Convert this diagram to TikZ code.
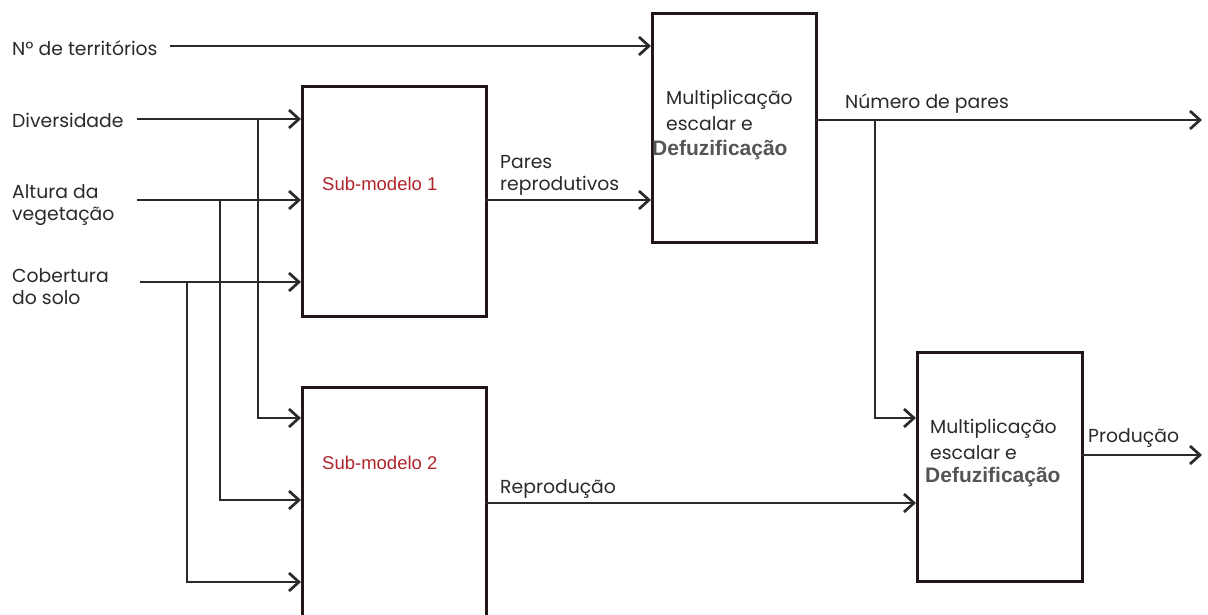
\documentclass[tikz,border=0pt]{standalone}
\usepackage{fontspec}
\setmainfont{Poppins}
\newfontfamily\arialf{Liberation Sans}
\usetikzlibrary{arrows.meta,calc}
\definecolor{txt}{HTML}{2A2A2A}
\definecolor{smred}{HTML}{B0242C}
\definecolor{boxline}{HTML}{221616}
\definecolor{defgray}{HTML}{555555}
\tikzset{
  px/.style={x=1pt,y=-1pt},
  box/.style={draw=boxline,line width=2.8pt,inner sep=0pt,anchor=north west},
  arr/.style={line width=2.7pt,draw=txt,-{Straight Barb[length=10pt,width=18pt,line width=2.7pt]}},
  lbl/.style={font=\fontsize{18.8}{22}\selectfont,text=txt,inner sep=0pt,align=left},
  sm/.style={font=\arialf\fontsize{18.5}{20}\selectfont,text=smred,inner sep=0pt},
  defz/.style={font=\arialf\bfseries\fontsize{21}{24}\selectfont,text=defgray,inner sep=0pt}
}
\begin{document}
\begin{tikzpicture}[px]
\useasboundingbox (0,0) rectangle (1208,614);
\clip (0,0) rectangle (1208,614);
\fill[white] (0,0) rectangle (1208,614);
% boxes
\node[box,minimum width=184pt,minimum height=230pt] (sm1) at (301,85) {};
\node[box,minimum width=184pt,minimum height=240pt] (sm2) at (301,386) {};
\node[box,minimum width=164pt,minimum height=229pt] (dz1) at (651,12) {};
\node[box,minimum width=165pt,minimum height=229pt] (dz2) at (916,351) {};
% box texts
\node[sm,anchor=west] (t1) at (322,184) {Sub-modelo 1};
\node[sm,anchor=west] (t2) at (322,463) {Sub-modelo 2};
\node[lbl,anchor=west] (m1) at (666,100) {Multiplicação};
\node[lbl,anchor=west] (m2) at (666,124) {escalar e};
\node[defz,anchor=west] (m3) at (652,150) {Defuzificação};
\node[lbl,anchor=west] (n1) at (930,429) {Multiplicação};
\node[lbl,anchor=west] (n2) at (930,453) {escalar e};
\node[defz,anchor=west] (n3) at (925,477) {Defuzificação};
% input labels
\node[lbl,anchor=west] (lN) at (12,48) {Nº de territórios};
\node[lbl,anchor=west] (lD) at (12,120) {Diversidade};
\node[lbl,anchor=west] (lA) at (12,205) {Altura da\\vegetação};
\node[lbl,anchor=west] (lC) at (12,287) {Cobertura\\do solo};
% connector labels
\node[lbl,anchor=west] (lP) at (500,175) {Pares\\reprodutivos};
\node[lbl,anchor=west] (lNP) at (845,104) {Número de pares};
\node[lbl,anchor=west] (lR) at (500,489) {Reprodução};
\node[lbl,anchor=west] (lPr) at (1088,438) {Produção};
% coordinates
\coordinate (sN) at (170,46);
\coordinate (sD) at (137,119);
\coordinate (sA) at (137,200);
\coordinate (sC) at (140,282);
\coordinate (bD) at (258,119);
\coordinate (bA) at (220,200);
\coordinate (bC) at (187,282);
\coordinate (sP) at (485,200);
\coordinate (sNP) at (815,120);
\coordinate (bNP) at (875,120);
\coordinate (eNP) at (1202,120);
\coordinate (sR) at (485,503);
\coordinate (sPr) at (1081,455);
\coordinate (ePr) at (1202,455);
% connectors
\draw[arr] (sN) -- (sN -| dz1.west);
\draw[arr] (sD) -- (sD -| sm1.west);
\draw[arr] (sA) -- (sA -| sm1.west);
\draw[arr] (sC) -- (sC -| sm1.west);
\draw[arr] (bD) |- ($(sm2.north west)+(0,32)$);
\draw[arr] (bA) |- ($(sm2.north west)+(0,114)$);
\draw[arr] (bC) |- ($(sm2.north west)+(0,196)$);
\draw[arr] (sP) -- (sP -| dz1.west);
\draw[arr] (sNP) -- (eNP);
\draw[arr] (bNP) |- ($(dz2.north west)+(0,67)$);
\draw[arr] (sR) -- (sR -| dz2.west);
\draw[arr] (sPr) -- (ePr);
\end{tikzpicture}
\end{document}
